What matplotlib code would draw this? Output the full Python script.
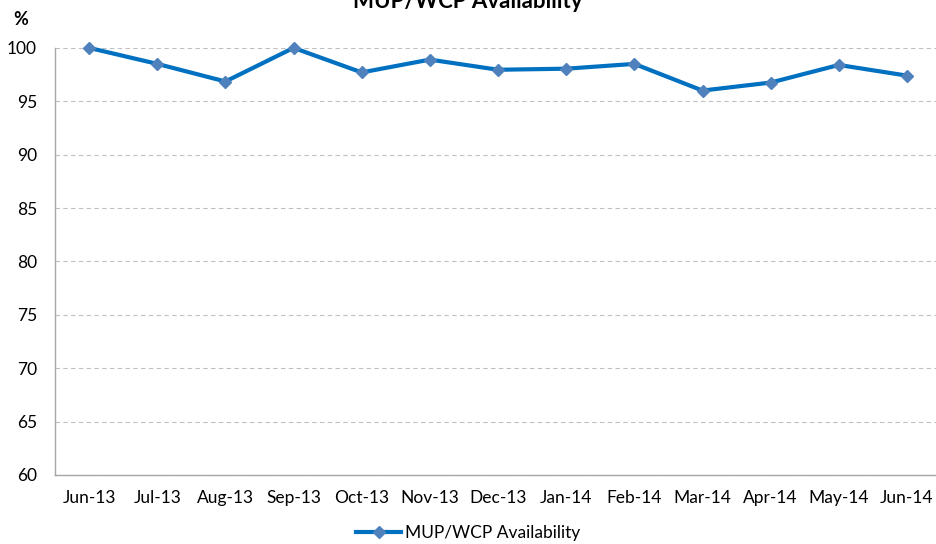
import matplotlib
matplotlib.use('Agg')
import matplotlib.pyplot as plt
from matplotlib.lines import Line2D

plt.rcParams['font.family'] = ['Lato', 'DejaVu Sans']

months = ['Jun-13', 'Jul-13', 'Aug-13', 'Sep-13', 'Oct-13', 'Nov-13', 'Dec-13',
          'Jan-14', 'Feb-14', 'Mar-14', 'Apr-14', 'May-14', 'Jun-14']
availability = [100.0, 98.5, 96.85, 100.0, 97.7, 98.9, 97.95,
                98.05, 98.5, 96.0, 96.75, 98.4, 97.4]
y_ticks = [60, 65, 70, 75, 80, 85, 90, 95, 100]

line_color = '#0070C0'
marker_color = '#4F81BD'

fig = plt.figure(figsize=(9.36, 5.44), dpi=100)
ax = fig.add_axes([0.0588, 0.127, 0.9466, 0.785])

x = range(len(months))
ax.plot(x, availability, color=line_color, linewidth=3, marker='D',
        markersize=6.5, markerfacecolor=marker_color, markeredgecolor=marker_color,
        clip_on=False, zorder=3)

ax.set_xlim(-0.5, len(months) - 0.5)
ax.set_ylim(60, 100)
ax.set_yticks(y_ticks)
ax.set_xticks(list(x))
ax.set_xticklabels(months)
ax.tick_params(axis='both', length=0, labelsize=12.5, colors='#000000')
ax.tick_params(axis='x', pad=11)
ax.tick_params(axis='y', pad=13)

ax.grid(axis='y', color='#C0C0C0', linestyle=(0, (4, 3)), linewidth=0.8)
ax.set_axisbelow(True)
for side in ['top', 'right']:
    ax.spines[side].set_visible(False)
for side in ['left', 'bottom']:
    ax.spines[side].set_color('#A6A6A6')
    ax.spines[side].set_linewidth(1)

# title is partly cut off at the top edge, as in the original
fig.text(0.5, 0.997, 'MUP/WCP Availability', ha='center', va='center',
         fontsize=16, fontweight='bold')
fig.text(0.022, 0.965, '%', ha='center', va='center', fontsize=13, fontweight='bold')

handle = Line2D([], [], color=line_color, linewidth=3, marker='D', markersize=6,
                markerfacecolor=marker_color, markeredgecolor=marker_color)
fig.legend([handle], ['MUP/WCP Availability'], loc='center', bbox_to_anchor=(0.5, 0.02),
           frameon=False, fontsize=12.5, handlelength=2.6, handletextpad=0.2)

fig.savefig('out.png', dpi=100)
